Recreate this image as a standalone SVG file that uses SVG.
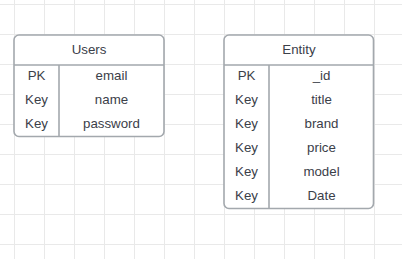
<svg xmlns="http://www.w3.org/2000/svg" width="402" height="259" viewBox="0 0 402 259">
  <defs>
    <pattern id="grid" x="14" y="4" width="30" height="30" patternUnits="userSpaceOnUse">
      <path d="M0.5 0 V30 M0 0.5 H30" fill="none" stroke="#e9e9e9" stroke-width="1"/>
    </pattern>
  </defs>
  <style>
    .box { fill: #ffffff; stroke: #a3a8ad; stroke-width: 1.6; }
    .sep { stroke: #a3a8ad; stroke-width: 1.6; fill: none; }
    text { font-family: "Liberation Sans", Arial, sans-serif; font-size: 13.3px; fill: #3b4049; text-anchor: middle; }
  </style>

  <!-- background grid -->
  <rect x="0" y="0" width="402" height="259" fill="#ffffff"/>
  <rect x="0" y="0" width="402" height="259" fill="url(#grid)"/>

  <!-- Users table -->
  <g id="users">
    <rect class="box" x="14" y="35" width="150" height="101.5" rx="5" ry="5"/>
    <path class="sep" d="M14 65 H164 M59 65 V136.5"/>
    <text x="89" y="53.5">Users</text>
    <text x="36.5" y="80">PK</text>
    <text x="111.5" y="80">email</text>
    <text x="36.5" y="104">Key</text>
    <text x="111.5" y="104">name</text>
    <text x="36.5" y="128">Key</text>
    <text x="111.5" y="128">password</text>
  </g>

  <!-- Entity table -->
  <g id="entity">
    <rect class="box" x="224" y="35" width="149.5" height="173.5" rx="5" ry="5"/>
    <path class="sep" d="M224 65 H373.5 M269 65 V208.5"/>
    <text x="299" y="53.5">Entity</text>
    <text x="246.5" y="80">PK</text>
    <text x="321.5" y="80">_id</text>
    <text x="246.5" y="104">Key</text>
    <text x="321.5" y="104">title</text>
    <text x="246.5" y="128">Key</text>
    <text x="321.5" y="128">brand</text>
    <text x="246.5" y="152">Key</text>
    <text x="321.5" y="152">price</text>
    <text x="246.5" y="176">Key</text>
    <text x="321.5" y="176">model</text>
    <text x="246.5" y="200">Key</text>
    <text x="321.5" y="200">Date</text>
  </g>

  <!-- no connectors between the tables -->
  <g id="connectors"/>
</svg>
